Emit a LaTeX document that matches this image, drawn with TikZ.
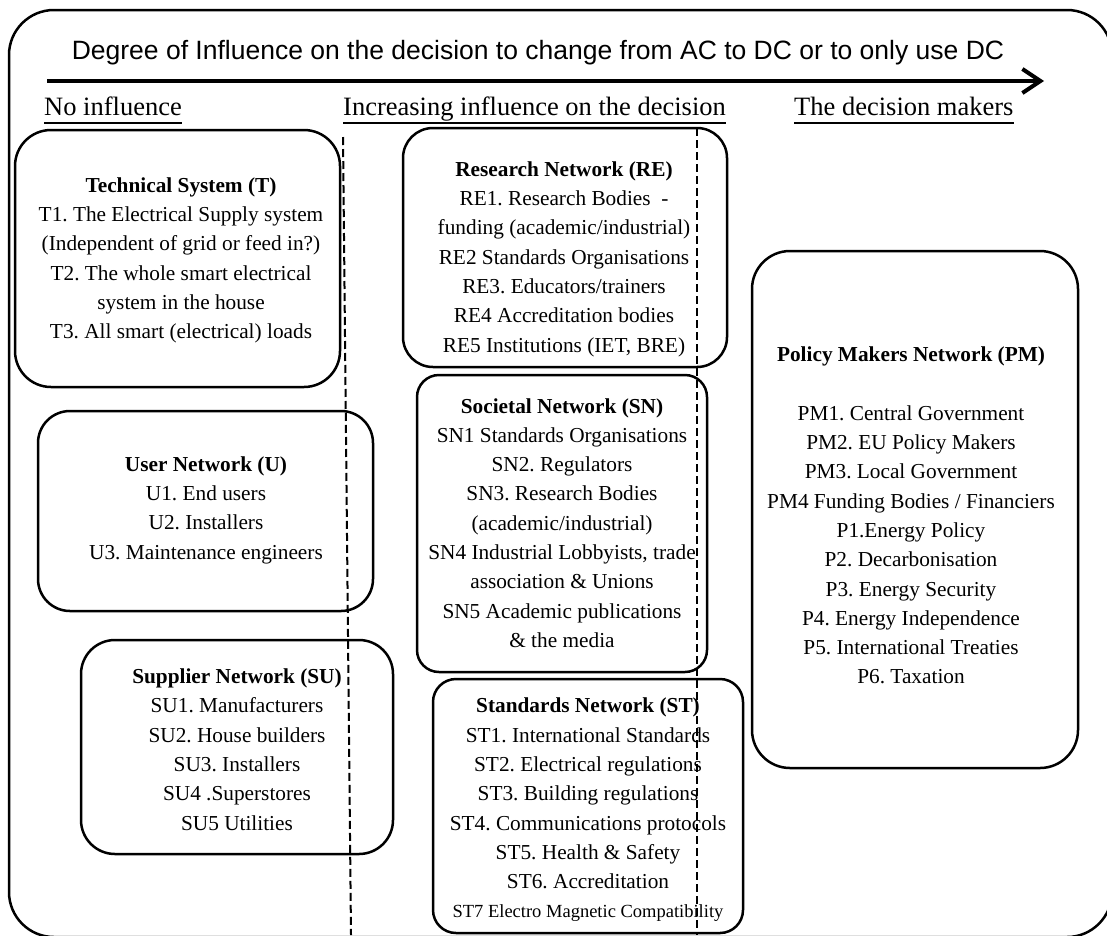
\documentclass[tikz,border=0pt]{standalone}
\usepackage{fontspec}
\setmainfont{Liberation Serif}
\newfontfamily\arialfont{Liberation Sans}
\usetikzlibrary{arrows.meta}
\frenchspacing
\tikzset{
  netbox/.style={draw, line width=2.5pt, rectangle, inner sep=0pt},
  boxtext/.style={align=center, inner sep=0pt, font=\fontsize{21.3}{29.3}\selectfont},
  heading/.style={inner sep=0pt, font=\fontsize{26.5}{30}\selectfont},
  divider/.style={line width=2pt, dash pattern=on 8pt off 4pt},
}
\begin{document}
\begin{tikzpicture}[x=1pt, y=-1pt]
\useasboundingbox (0,0) rectangle (1107,935);
\fill[white] (0,0) rectangle (1107,935);
% outer frame
\draw[line width=2.5pt, rounded corners=45pt] (9,10) rectangle (1112,937);
% title
\node[inner sep=0pt, anchor=base, font=\arialfont\fontsize{26.5}{30}\selectfont] (title) at (538,59)
  {Degree of Influence on the decision to change from AC to DC or to only use DC};
% arrow
\coordinate (arrS) at (47,81);
\coordinate (arrE) at (1044,81);
\draw[line width=4pt, -{Straight Barb[length=18pt, width=24pt, line width=4pt]}] (arrS) -- (arrE);
% headings
\node[heading, anchor=base west] (h1) at (44,115) {No influence};
\node[heading, anchor=base west] (h2) at (343,115) {Increasing influence on the decision};
\node[heading, anchor=base west] (h3) at (794,115) {The decision makers};
\foreach \h in {h1,h2,h3}{
  \draw[line width=2pt] ([yshift=-8pt]\h.base west) -- ([yshift=-8pt]\h.base east);
}
% dashed dividers
\coordinate (d1a) at (343,137);
\coordinate (d1b) at (351,935);
\draw[divider] (d1a) -- (d1b);
\coordinate (d2a) at (697,128);
\coordinate (d2b) at (697,935);
\draw[divider] (d2a) -- (d2b);
% boxes
\draw[netbox, rounded corners=36pt] (15,130) rectangle (340,387);
\node[boxtext] (T) at (181,260.5) {\textbf{Technical System (T)}\\T1. The Electrical Supply system\\(Independent of grid or feed in?)\\T2. The whole smart electrical\\system in the house\\T3. All smart (electrical) loads};

\draw[netbox, rounded corners=32pt] (38,411) rectangle (373,611);
\node[boxtext] (U) at (206,510) {\textbf{User Network (U)}\\U1. End users\\U2. Installers\\U3. Maintenance engineers};

\draw[netbox, rounded corners=34pt] (81,640) rectangle (393,854);
\node[boxtext] (SU) at (237,749.5) {\textbf{Supplier Network (SU)}\\SU1. Manufacturers\\SU2. House builders\\SU3. Installers\\SU4 .Superstores\\SU5 Utilities};

\draw[netbox, rounded corners=30pt] (403,128) rectangle (727,367);
\node[boxtext] (RE) at (564,259) {\textbf{Research Network (RE)}\\RE1. Research Bodies\ \ -\\funding (academic/industrial)\\RE2 Standards Organisations\\RE3. Educators/trainers\\RE4 Accreditation bodies\\RE5 Institutions (IET, BRE)};

\draw[netbox, rounded corners=22pt] (417,375) rectangle (707,672);
\node[boxtext] (SN) at (562,523) {\textbf{Societal Network (SN)}\\SN1 Standards Organisations\\SN2. Regulators\\SN3. Research Bodies\\(academic/industrial)\\SN4 Industrial Lobbyists, trade\\association \& Unions\\SN5 Academic publications\\\& the media};

\draw[netbox, rounded corners=23pt] (433,679) rectangle (743,933);
\node[boxtext] (ST) at (588,810) {\textbf{Standards Network (ST)}\\ST1. International Standards\\ST2. Electrical regulations\\ST3. Building regulations\\ST4. Communications protocols\\ST5. Health \& Safety\\ST6. Accreditation\\{\fontsize{18.5}{29.3}\selectfont ST7 Electro Magnetic Compatibility}};

\draw[netbox, rounded corners=38pt] (752,251) rectangle (1078,768);
\node[boxtext] (PM) at (911,515.5) {\textbf{Policy Makers Network (PM)}\\[29.3pt]PM1. Central Government\\PM2. EU Policy Makers\\PM3. Local Government\\PM4 Funding Bodies / Financiers\\P1.Energy Policy\\P2. Decarbonisation\\P3. Energy Security\\P4. Energy Independence\\P5. International Treaties\\P6. Taxation};
\end{tikzpicture}
\end{document}
